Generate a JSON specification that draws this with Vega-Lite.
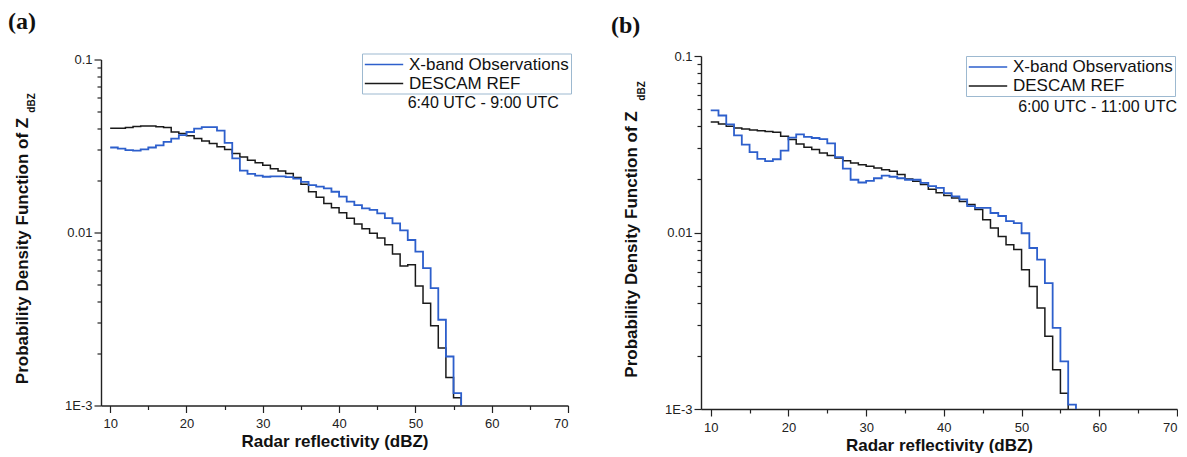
{
  "$schema": "https://vega.github.io/schema/vega-lite/v6.json",
  "background": "white",
  "padding": {"left": 8, "top": 10, "right": 0, "bottom": 0},
  "spacing": 39,
  "center": {"row": true, "column": false},
  "config": {
    "view": {"stroke": null},
    "font": "Liberation Sans",
    "axis": {
      "grid": false,
      "domainColor": "#222222",
      "domainWidth": 1.4,
      "tickColor": "#222222",
      "tickWidth": 1.2,
      "labelColor": "#222222",
      "labelFont": "Liberation Sans",
      "labelFontSize": 13,
      "titleFont": "Liberation Sans",
      "titleFontSize": 17,
      "titleFontWeight": "bold",
      "titleColor": "#111111"
    },
    "legend": {
      "orient": "none",
      "title": null,
      "symbolType": "M-2.4,0H2.4",
      "symbolSize": 256,
      "symbolOffset": 11,
      "symbolStrokeWidth": 1.6,
      "symbolFillColor": "transparent",
      "labelFont": "Liberation Sans",
      "labelFontSize": 17,
      "labelColor": "#111111",
      "labelOffset": 16,
      "strokeColor": "#9db9d0",
      "padding": 2,
      "rowPadding": 2,
      "direction": "vertical"
    }
  },
  "resolve": {"scale": {"color": "independent"}, "legend": {"color": "independent"}},
  "datasets": {
    "pdf": [
      {"panel": "a", "series": "X-band Observations", "dbz": 10, "pdf": 0.0310},
      {"panel": "a", "series": "X-band Observations", "dbz": 11, "pdf": 0.0305},
      {"panel": "a", "series": "X-band Observations", "dbz": 12, "pdf": 0.0299},
      {"panel": "a", "series": "X-band Observations", "dbz": 13, "pdf": 0.0297},
      {"panel": "a", "series": "X-band Observations", "dbz": 14, "pdf": 0.0302},
      {"panel": "a", "series": "X-band Observations", "dbz": 15, "pdf": 0.0310},
      {"panel": "a", "series": "X-band Observations", "dbz": 16, "pdf": 0.0319},
      {"panel": "a", "series": "X-band Observations", "dbz": 17, "pdf": 0.0334},
      {"panel": "a", "series": "X-band Observations", "dbz": 18, "pdf": 0.0349},
      {"panel": "a", "series": "X-band Observations", "dbz": 19, "pdf": 0.0365},
      {"panel": "a", "series": "X-band Observations", "dbz": 20, "pdf": 0.0381},
      {"panel": "a", "series": "X-band Observations", "dbz": 21, "pdf": 0.0398},
      {"panel": "a", "series": "X-band Observations", "dbz": 22, "pdf": 0.0407},
      {"panel": "a", "series": "X-band Observations", "dbz": 23, "pdf": 0.0407},
      {"panel": "a", "series": "X-band Observations", "dbz": 24, "pdf": 0.0388},
      {"panel": "a", "series": "X-band Observations", "dbz": 25, "pdf": 0.0330},
      {"panel": "a", "series": "X-band Observations", "dbz": 26, "pdf": 0.0268},
      {"panel": "a", "series": "X-band Observations", "dbz": 27, "pdf": 0.0228},
      {"panel": "a", "series": "X-band Observations", "dbz": 28, "pdf": 0.0218},
      {"panel": "a", "series": "X-band Observations", "dbz": 29, "pdf": 0.0213},
      {"panel": "a", "series": "X-band Observations", "dbz": 30, "pdf": 0.0210},
      {"panel": "a", "series": "X-band Observations", "dbz": 31, "pdf": 0.0211},
      {"panel": "a", "series": "X-band Observations", "dbz": 32, "pdf": 0.0211},
      {"panel": "a", "series": "X-band Observations", "dbz": 33, "pdf": 0.0209},
      {"panel": "a", "series": "X-band Observations", "dbz": 34, "pdf": 0.0205},
      {"panel": "a", "series": "X-band Observations", "dbz": 35, "pdf": 0.0196},
      {"panel": "a", "series": "X-band Observations", "dbz": 36, "pdf": 0.0188},
      {"panel": "a", "series": "X-band Observations", "dbz": 37, "pdf": 0.0184},
      {"panel": "a", "series": "X-band Observations", "dbz": 38, "pdf": 0.0180},
      {"panel": "a", "series": "X-band Observations", "dbz": 39, "pdf": 0.0172},
      {"panel": "a", "series": "X-band Observations", "dbz": 40, "pdf": 0.0161},
      {"panel": "a", "series": "X-band Observations", "dbz": 41, "pdf": 0.0151},
      {"panel": "a", "series": "X-band Observations", "dbz": 42, "pdf": 0.0144},
      {"panel": "a", "series": "X-band Observations", "dbz": 43, "pdf": 0.0138},
      {"panel": "a", "series": "X-band Observations", "dbz": 44, "pdf": 0.0135},
      {"panel": "a", "series": "X-band Observations", "dbz": 45, "pdf": 0.0129},
      {"panel": "a", "series": "X-band Observations", "dbz": 46, "pdf": 0.0121},
      {"panel": "a", "series": "X-band Observations", "dbz": 47, "pdf": 0.0113},
      {"panel": "a", "series": "X-band Observations", "dbz": 48, "pdf": 0.0103},
      {"panel": "a", "series": "X-band Observations", "dbz": 49, "pdf": 0.00905},
      {"panel": "a", "series": "X-band Observations", "dbz": 50, "pdf": 0.00775},
      {"panel": "a", "series": "X-band Observations", "dbz": 51, "pdf": 0.00622},
      {"panel": "a", "series": "X-band Observations", "dbz": 52, "pdf": 0.00477},
      {"panel": "a", "series": "X-band Observations", "dbz": 53, "pdf": 0.00313},
      {"panel": "a", "series": "X-band Observations", "dbz": 54, "pdf": 0.00192},
      {"panel": "a", "series": "X-band Observations", "dbz": 55, "pdf": 0.00118},
      {"panel": "a", "series": "X-band Observations", "dbz": 56, "pdf": 0.001},
      {"panel": "a", "series": "DESCAM REF", "dbz": 10, "pdf": 0.0400},
      {"panel": "a", "series": "DESCAM REF", "dbz": 11, "pdf": 0.0400},
      {"panel": "a", "series": "DESCAM REF", "dbz": 12, "pdf": 0.0405},
      {"panel": "a", "series": "DESCAM REF", "dbz": 13, "pdf": 0.0410},
      {"panel": "a", "series": "DESCAM REF", "dbz": 14, "pdf": 0.0412},
      {"panel": "a", "series": "DESCAM REF", "dbz": 15, "pdf": 0.0412},
      {"panel": "a", "series": "DESCAM REF", "dbz": 16, "pdf": 0.0408},
      {"panel": "a", "series": "DESCAM REF", "dbz": 17, "pdf": 0.0405},
      {"panel": "a", "series": "DESCAM REF", "dbz": 18, "pdf": 0.0381},
      {"panel": "a", "series": "DESCAM REF", "dbz": 19, "pdf": 0.0373},
      {"panel": "a", "series": "DESCAM REF", "dbz": 20, "pdf": 0.0362},
      {"panel": "a", "series": "DESCAM REF", "dbz": 21, "pdf": 0.0349},
      {"panel": "a", "series": "DESCAM REF", "dbz": 22, "pdf": 0.0338},
      {"panel": "a", "series": "DESCAM REF", "dbz": 23, "pdf": 0.0327},
      {"panel": "a", "series": "DESCAM REF", "dbz": 24, "pdf": 0.0313},
      {"panel": "a", "series": "DESCAM REF", "dbz": 25, "pdf": 0.0302},
      {"panel": "a", "series": "DESCAM REF", "dbz": 26, "pdf": 0.0286},
      {"panel": "a", "series": "DESCAM REF", "dbz": 27, "pdf": 0.0273},
      {"panel": "a", "series": "DESCAM REF", "dbz": 28, "pdf": 0.0262},
      {"panel": "a", "series": "DESCAM REF", "dbz": 29, "pdf": 0.0253},
      {"panel": "a", "series": "DESCAM REF", "dbz": 30, "pdf": 0.0245},
      {"panel": "a", "series": "DESCAM REF", "dbz": 31, "pdf": 0.0234},
      {"panel": "a", "series": "DESCAM REF", "dbz": 32, "pdf": 0.0227},
      {"panel": "a", "series": "DESCAM REF", "dbz": 33, "pdf": 0.0219},
      {"panel": "a", "series": "DESCAM REF", "dbz": 34, "pdf": 0.0208},
      {"panel": "a", "series": "DESCAM REF", "dbz": 35, "pdf": 0.0190},
      {"panel": "a", "series": "DESCAM REF", "dbz": 36, "pdf": 0.0172},
      {"panel": "a", "series": "DESCAM REF", "dbz": 37, "pdf": 0.0160},
      {"panel": "a", "series": "DESCAM REF", "dbz": 38, "pdf": 0.0147},
      {"panel": "a", "series": "DESCAM REF", "dbz": 39, "pdf": 0.0139},
      {"panel": "a", "series": "DESCAM REF", "dbz": 40, "pdf": 0.0130},
      {"panel": "a", "series": "DESCAM REF", "dbz": 41, "pdf": 0.0121},
      {"panel": "a", "series": "DESCAM REF", "dbz": 42, "pdf": 0.0112},
      {"panel": "a", "series": "DESCAM REF", "dbz": 43, "pdf": 0.0105},
      {"panel": "a", "series": "DESCAM REF", "dbz": 44, "pdf": 0.0099},
      {"panel": "a", "series": "DESCAM REF", "dbz": 45, "pdf": 0.0093},
      {"panel": "a", "series": "DESCAM REF", "dbz": 46, "pdf": 0.0085},
      {"panel": "a", "series": "DESCAM REF", "dbz": 47, "pdf": 0.0075},
      {"panel": "a", "series": "DESCAM REF", "dbz": 48, "pdf": 0.0064},
      {"panel": "a", "series": "DESCAM REF", "dbz": 49, "pdf": 0.0065},
      {"panel": "a", "series": "DESCAM REF", "dbz": 50, "pdf": 0.0049},
      {"panel": "a", "series": "DESCAM REF", "dbz": 51, "pdf": 0.0039},
      {"panel": "a", "series": "DESCAM REF", "dbz": 52, "pdf": 0.00289},
      {"panel": "a", "series": "DESCAM REF", "dbz": 53, "pdf": 0.00215},
      {"panel": "a", "series": "DESCAM REF", "dbz": 54, "pdf": 0.00145},
      {"panel": "a", "series": "DESCAM REF", "dbz": 55, "pdf": 0.00111},
      {"panel": "a", "series": "DESCAM REF", "dbz": 56, "pdf": 0.001},
      {"panel": "b", "series": "X-band Observations", "dbz": 10, "pdf": 0.0492},
      {"panel": "b", "series": "X-band Observations", "dbz": 11, "pdf": 0.0460},
      {"panel": "b", "series": "X-band Observations", "dbz": 12, "pdf": 0.0410},
      {"panel": "b", "series": "X-band Observations", "dbz": 13, "pdf": 0.0355},
      {"panel": "b", "series": "X-band Observations", "dbz": 14, "pdf": 0.0315},
      {"panel": "b", "series": "X-band Observations", "dbz": 15, "pdf": 0.0285},
      {"panel": "b", "series": "X-band Observations", "dbz": 16, "pdf": 0.0261},
      {"panel": "b", "series": "X-band Observations", "dbz": 17, "pdf": 0.0254},
      {"panel": "b", "series": "X-band Observations", "dbz": 18, "pdf": 0.0260},
      {"panel": "b", "series": "X-band Observations", "dbz": 19, "pdf": 0.0291},
      {"panel": "b", "series": "X-band Observations", "dbz": 20, "pdf": 0.0345},
      {"panel": "b", "series": "X-band Observations", "dbz": 21, "pdf": 0.0360},
      {"panel": "b", "series": "X-band Observations", "dbz": 22, "pdf": 0.0348},
      {"panel": "b", "series": "X-band Observations", "dbz": 23, "pdf": 0.0343},
      {"panel": "b", "series": "X-band Observations", "dbz": 24, "pdf": 0.0338},
      {"panel": "b", "series": "X-band Observations", "dbz": 25, "pdf": 0.0320},
      {"panel": "b", "series": "X-band Observations", "dbz": 26, "pdf": 0.0267},
      {"panel": "b", "series": "X-band Observations", "dbz": 27, "pdf": 0.0230},
      {"panel": "b", "series": "X-band Observations", "dbz": 28, "pdf": 0.0199},
      {"panel": "b", "series": "X-band Observations", "dbz": 29, "pdf": 0.0192},
      {"panel": "b", "series": "X-band Observations", "dbz": 30, "pdf": 0.0196},
      {"panel": "b", "series": "X-band Observations", "dbz": 31, "pdf": 0.0203},
      {"panel": "b", "series": "X-band Observations", "dbz": 32, "pdf": 0.0210},
      {"panel": "b", "series": "X-band Observations", "dbz": 33, "pdf": 0.0207},
      {"panel": "b", "series": "X-band Observations", "dbz": 34, "pdf": 0.0203},
      {"panel": "b", "series": "X-band Observations", "dbz": 35, "pdf": 0.0199},
      {"panel": "b", "series": "X-band Observations", "dbz": 36, "pdf": 0.0199},
      {"panel": "b", "series": "X-band Observations", "dbz": 37, "pdf": 0.0191},
      {"panel": "b", "series": "X-band Observations", "dbz": 38, "pdf": 0.0183},
      {"panel": "b", "series": "X-band Observations", "dbz": 39, "pdf": 0.0179},
      {"panel": "b", "series": "X-band Observations", "dbz": 40, "pdf": 0.0167},
      {"panel": "b", "series": "X-band Observations", "dbz": 41, "pdf": 0.0160},
      {"panel": "b", "series": "X-band Observations", "dbz": 42, "pdf": 0.0154},
      {"panel": "b", "series": "X-band Observations", "dbz": 43, "pdf": 0.0141},
      {"panel": "b", "series": "X-band Observations", "dbz": 44, "pdf": 0.0138},
      {"panel": "b", "series": "X-band Observations", "dbz": 45, "pdf": 0.0138},
      {"panel": "b", "series": "X-band Observations", "dbz": 46, "pdf": 0.0129},
      {"panel": "b", "series": "X-band Observations", "dbz": 47, "pdf": 0.0124},
      {"panel": "b", "series": "X-band Observations", "dbz": 48, "pdf": 0.0116},
      {"panel": "b", "series": "X-band Observations", "dbz": 49, "pdf": 0.0113},
      {"panel": "b", "series": "X-band Observations", "dbz": 50, "pdf": 0.0099},
      {"panel": "b", "series": "X-band Observations", "dbz": 51, "pdf": 0.00817},
      {"panel": "b", "series": "X-band Observations", "dbz": 52, "pdf": 0.00702},
      {"panel": "b", "series": "X-band Observations", "dbz": 53, "pdf": 0.00517},
      {"panel": "b", "series": "X-band Observations", "dbz": 54, "pdf": 0.00288},
      {"panel": "b", "series": "X-band Observations", "dbz": 55, "pdf": 0.00186},
      {"panel": "b", "series": "X-band Observations", "dbz": 56, "pdf": 0.00106},
      {"panel": "b", "series": "X-band Observations", "dbz": 57, "pdf": 0.001},
      {"panel": "b", "series": "DESCAM REF", "dbz": 10, "pdf": 0.0423},
      {"panel": "b", "series": "DESCAM REF", "dbz": 11, "pdf": 0.0412},
      {"panel": "b", "series": "DESCAM REF", "dbz": 12, "pdf": 0.0400},
      {"panel": "b", "series": "DESCAM REF", "dbz": 13, "pdf": 0.0391},
      {"panel": "b", "series": "DESCAM REF", "dbz": 14, "pdf": 0.0386},
      {"panel": "b", "series": "DESCAM REF", "dbz": 15, "pdf": 0.0381},
      {"panel": "b", "series": "DESCAM REF", "dbz": 16, "pdf": 0.0377},
      {"panel": "b", "series": "DESCAM REF", "dbz": 17, "pdf": 0.0373},
      {"panel": "b", "series": "DESCAM REF", "dbz": 18, "pdf": 0.0370},
      {"panel": "b", "series": "DESCAM REF", "dbz": 19, "pdf": 0.0351},
      {"panel": "b", "series": "DESCAM REF", "dbz": 20, "pdf": 0.0336},
      {"panel": "b", "series": "DESCAM REF", "dbz": 21, "pdf": 0.0317},
      {"panel": "b", "series": "DESCAM REF", "dbz": 22, "pdf": 0.0304},
      {"panel": "b", "series": "DESCAM REF", "dbz": 23, "pdf": 0.0295},
      {"panel": "b", "series": "DESCAM REF", "dbz": 24, "pdf": 0.0282},
      {"panel": "b", "series": "DESCAM REF", "dbz": 25, "pdf": 0.0273},
      {"panel": "b", "series": "DESCAM REF", "dbz": 26, "pdf": 0.0264},
      {"panel": "b", "series": "DESCAM REF", "dbz": 27, "pdf": 0.0255},
      {"panel": "b", "series": "DESCAM REF", "dbz": 28, "pdf": 0.0248},
      {"panel": "b", "series": "DESCAM REF", "dbz": 29, "pdf": 0.0242},
      {"panel": "b", "series": "DESCAM REF", "dbz": 30, "pdf": 0.0237},
      {"panel": "b", "series": "DESCAM REF", "dbz": 31, "pdf": 0.0232},
      {"panel": "b", "series": "DESCAM REF", "dbz": 32, "pdf": 0.0227},
      {"panel": "b", "series": "DESCAM REF", "dbz": 33, "pdf": 0.0222},
      {"panel": "b", "series": "DESCAM REF", "dbz": 34, "pdf": 0.0213},
      {"panel": "b", "series": "DESCAM REF", "dbz": 35, "pdf": 0.0201},
      {"panel": "b", "series": "DESCAM REF", "dbz": 36, "pdf": 0.0195},
      {"panel": "b", "series": "DESCAM REF", "dbz": 37, "pdf": 0.0187},
      {"panel": "b", "series": "DESCAM REF", "dbz": 38, "pdf": 0.0176},
      {"panel": "b", "series": "DESCAM REF", "dbz": 39, "pdf": 0.0168},
      {"panel": "b", "series": "DESCAM REF", "dbz": 40, "pdf": 0.0162},
      {"panel": "b", "series": "DESCAM REF", "dbz": 41, "pdf": 0.0157},
      {"panel": "b", "series": "DESCAM REF", "dbz": 42, "pdf": 0.0150},
      {"panel": "b", "series": "DESCAM REF", "dbz": 43, "pdf": 0.0144},
      {"panel": "b", "series": "DESCAM REF", "dbz": 44, "pdf": 0.0135},
      {"panel": "b", "series": "DESCAM REF", "dbz": 45, "pdf": 0.0118},
      {"panel": "b", "series": "DESCAM REF", "dbz": 46, "pdf": 0.0106},
      {"panel": "b", "series": "DESCAM REF", "dbz": 47, "pdf": 0.0095},
      {"panel": "b", "series": "DESCAM REF", "dbz": 48, "pdf": 0.00853},
      {"panel": "b", "series": "DESCAM REF", "dbz": 49, "pdf": 0.0080},
      {"panel": "b", "series": "DESCAM REF", "dbz": 50, "pdf": 0.00615},
      {"panel": "b", "series": "DESCAM REF", "dbz": 51, "pdf": 0.00495},
      {"panel": "b", "series": "DESCAM REF", "dbz": 52, "pdf": 0.00373},
      {"panel": "b", "series": "DESCAM REF", "dbz": 53, "pdf": 0.00258},
      {"panel": "b", "series": "DESCAM REF", "dbz": 54, "pdf": 0.00167},
      {"panel": "b", "series": "DESCAM REF", "dbz": 55, "pdf": 0.00123},
      {"panel": "b", "series": "DESCAM REF", "dbz": 56, "pdf": 0.001}
    ]
  },
  "hconcat": [
    {
      "width": 467,
      "height": 346,
      "title": {"text": "(a)", "anchor": "start", "frame": "group", "font": "Liberation Serif", "fontSize": 24, "fontWeight": "bold", "color": "#111111", "dx": -93, "offset": 19},
      "resolve": {"axis": {"x": "independent", "y": "independent"}},
      "layer": [
        {
          "data": {"name": "pdf"},
          "transform": [{"filter": "datum.panel == 'a' && datum.series == 'DESCAM REF'"}],
          "mark": {"type": "line", "interpolate": "step-after", "strokeWidth": 1.5},
          "encoding": {
            "x": {"field": "dbz", "type": "quantitative",
              "scale": {"domain": [8.8, 70], "nice": false, "zero": false},
              "axis": {"orient": "bottom", "values": [15, 25, 35, 45, 55, 65], "tickSize": 4, "labels": false, "domain": false, "title": null}},
            "y": {"field": "pdf", "type": "quantitative",
              "scale": {"type": "log", "domain": [0.001, 0.1], "nice": false},
              "axis": {"orient": "left", "values": [0.002, 0.003, 0.004, 0.005, 0.006, 0.007, 0.008, 0.009, 0.02, 0.03, 0.04, 0.05, 0.06, 0.07, 0.08, 0.09], "tickSize": 4, "labels": false, "domain": false, "title": null}},
            "color": {"field": "series", "type": "nominal",
              "scale": {"domain": ["X-band Observations", "DESCAM REF"], "range": ["#2d5fcc", "#1a1a1a"]},
              "legend": {"legendX": 261, "legendY": -6}}
          }
        },
        {
          "data": {"name": "pdf"},
          "transform": [{"filter": "datum.panel == 'a' && datum.series == 'X-band Observations'"}],
          "mark": {"type": "line", "interpolate": "step-after", "strokeWidth": 1.8},
          "encoding": {
            "x": {"field": "dbz", "type": "quantitative",
              "axis": {"orient": "bottom", "title": "Radar reflectivity (dBZ)", "values": [10, 20, 30, 40, 50, 60, 70], "tickSize": 7, "labelPadding": 5, "titlePadding": 3}},
            "y": {"field": "pdf", "type": "quantitative",
              "axis": {"orient": "left", "title": "Probability Density Function of Z", "values": [0.001, 0.01, 0.1],
                "labelExpr": "datum.value == 0.001 ? '1E-3' : datum.value == 0.01 ? '0.01' : '0.1'",
                "tickSize": 7, "labelPadding": 2, "titleX": -70, "titleY": 191}},
            "color": {"field": "series", "type": "nominal",
              "scale": {"domain": ["X-band Observations", "DESCAM REF"], "range": ["#2d5fcc", "#1a1a1a"]},
              "legend": {"legendX": 261, "legendY": -6}}
          }
        },
        {
          "data": {"values": [{}]},
          "mark": {"type": "text", "align": "right", "baseline": "middle", "fontSize": 16, "font": "Liberation Sans", "color": "#111111"},
          "encoding": {"x": {"datum": 68.8, "axis": null}, "y": {"datum": 0.0562, "axis": null}, "text": {"value": "6:40 UTC - 9:00 UTC"}}
        },
        {
          "data": {"values": [{}]},
          "mark": {"type": "text", "align": "center", "baseline": "middle", "angle": 270, "fontSize": 10, "fontWeight": "bold", "font": "Liberation Sans", "color": "#111111"},
          "encoding": {"x": {"datum": -0.3, "axis": null}, "y": {"datum": 0.0561, "axis": null}, "text": {"value": "dBZ"}}
        }
      ]
    },
    {
      "width": 476,
      "height": 353,
      "title": {"text": "(b)", "anchor": "start", "frame": "group", "font": "Liberation Serif", "fontSize": 24, "fontWeight": "bold", "color": "#111111", "dx": -90, "offset": 12.5},
      "resolve": {"axis": {"x": "independent", "y": "independent"}},
      "layer": [
        {
          "data": {"name": "pdf"},
          "transform": [{"filter": "datum.panel == 'b' && datum.series == 'DESCAM REF'"}],
          "mark": {"type": "line", "interpolate": "step-after", "strokeWidth": 1.5},
          "encoding": {
            "x": {"field": "dbz", "type": "quantitative",
              "scale": {"domain": [8.75, 70], "nice": false, "zero": false},
              "axis": {"orient": "bottom", "values": [15, 25, 35, 45, 55, 65], "tickSize": 4, "labels": false, "domain": false, "title": null}},
            "y": {"field": "pdf", "type": "quantitative",
              "scale": {"type": "log", "domain": [0.001, 0.1], "nice": false},
              "axis": {"orient": "left", "values": [0.002, 0.003, 0.004, 0.005, 0.006, 0.007, 0.008, 0.009, 0.02, 0.03, 0.04, 0.05, 0.06, 0.07, 0.08, 0.09], "tickSize": 4, "labels": false, "domain": false, "title": null}},
            "color": {"field": "series", "type": "nominal",
              "scale": {"domain": ["X-band Observations", "DESCAM REF"], "range": ["#2d5fcc", "#1a1a1a"]},
              "legend": {"legendX": 265, "legendY": 0}}
          }
        },
        {
          "data": {"name": "pdf"},
          "transform": [{"filter": "datum.panel == 'b' && datum.series == 'X-band Observations'"}],
          "mark": {"type": "line", "interpolate": "step-after", "strokeWidth": 1.8},
          "encoding": {
            "x": {"field": "dbz", "type": "quantitative",
              "axis": {"orient": "bottom", "title": "Radar reflectivity (dBZ)", "values": [10, 20, 30, 40, 50, 60, 70], "tickSize": 7, "labelPadding": 5, "titlePadding": 3}},
            "y": {"field": "pdf", "type": "quantitative",
              "axis": {"orient": "left", "title": "Probability Density Function of Z", "values": [0.001, 0.01, 0.1],
                "labelExpr": "datum.value == 0.001 ? '1E-3' : datum.value == 0.01 ? '0.01' : '0.1'",
                "tickSize": 7, "labelPadding": 2, "titleX": -61, "titleY": 188}},
            "color": {"field": "series", "type": "nominal",
              "scale": {"domain": ["X-band Observations", "DESCAM REF"], "range": ["#2d5fcc", "#1a1a1a"]},
              "legend": {"legendX": 265, "legendY": 0}}
          }
        },
        {
          "data": {"values": [{}]},
          "mark": {"type": "text", "align": "right", "baseline": "middle", "fontSize": 16, "font": "Liberation Sans", "color": "#111111"},
          "encoding": {"x": {"datum": 70, "axis": null}, "y": {"datum": 0.0514, "axis": null}, "text": {"value": "6:00 UTC - 11:00 UTC"}}
        },
        {
          "data": {"values": [{}]},
          "mark": {"type": "text", "align": "center", "baseline": "middle", "angle": 270, "fontSize": 10, "fontWeight": "bold", "font": "Liberation Sans", "color": "#111111"},
          "encoding": {"x": {"datum": 1.1, "axis": null}, "y": {"datum": 0.0634, "axis": null}, "text": {"value": "dBZ"}}
        }
      ]
    }
  ]
}
